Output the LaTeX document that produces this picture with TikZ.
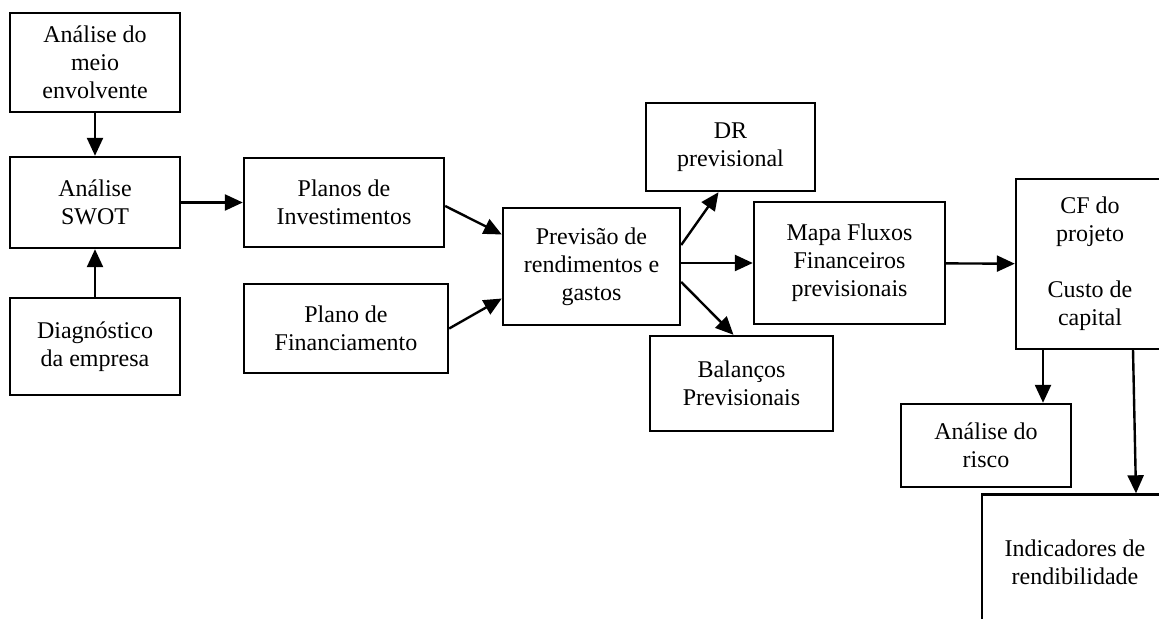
\documentclass[tikz,border=0pt]{standalone}
\usepackage{fontspec}
\setmainfont{Liberation Serif}
\usepackage{tikz}
\usetikzlibrary{arrows.meta, positioning}

\begin{document}
\begin{tikzpicture}[x=0.5pt, y=-0.5pt,
    caixa/.style={draw, line width=1.2pt, align=center, inner sep=2pt,
        font=\fontsize{12}{14}\selectfont},
    seta/.style={line width=1.2pt, -{Triangle[length=9pt, width=8pt]}}]

    \useasboundingbox (0,0) rectangle (1159,619);
    \clip (0,0) rectangle (1159,619);

    % ============================================================
    % ANALISE ESTRATEGICA
    % ============================================================
    \node[caixa, minimum width=85pt, minimum height=49.5pt] (meio)
        at (95,62.5) {Análise do\\meio\\envolvente};
    \node[caixa, minimum width=85pt, minimum height=45.5pt] (swot)
        at (95,202.5) {Análise\\SWOT};
    \node[caixa, minimum width=85pt, minimum height=48.5pt] (diag)
        at (95,346.5) {Diagnóstico\\da empresa};

    \draw[seta] (meio) -- (swot);
    \draw[seta] (diag) -- (swot);

    % ============================================================
    % PLANOS
    % ============================================================
    \node[caixa, minimum width=100pt, minimum height=44.5pt] (planos)
        at (344,202.5) {Planos de\\Investimentos};
    \node[caixa, minimum width=102pt, minimum height=44.5pt] (financ)
        at (346,328.5) {Plano de\\Financiamento};

    \draw[seta] (swot) -- (planos);

    % ============================================================
    % PREVISOES
    % ============================================================
    \node[caixa, minimum width=88.5pt, minimum height=58.5pt] (prev)
        at (591.5,266.5) {Previsão de\\rendimentos e\\gastos};
    \node[caixa, minimum width=84.5pt, minimum height=44pt] (dr)
        at (730.5,147) {DR\\previsional};
    \node[caixa, minimum width=95.5pt, minimum height=61pt] (mapa)
        at (849.5,263) {Mapa Fluxos\\Financeiros\\previsionais};
    \node[caixa, minimum width=91.5pt, minimum height=47.5pt] (bal)
        at (741.5,383.5) {Balanços\\Previsionais};

    \draw[seta] ([yshift=-1.75pt]planos.east) -- ([yshift=16pt]prev.west);
    \draw[seta] (financ.east) -- ([yshift=-16pt]prev.west);
    \draw[seta] ([yshift=10.75pt]prev.east) -- ([xshift=-6pt]dr.south);
    \draw[seta] ([yshift=1.75pt]prev.east) -- (mapa.west);
    \draw[seta] ([yshift=-7.75pt]prev.east) -- ([xshift=-4pt]bal.north);

    % ============================================================
    % AVALIACAO DO PROJETO
    % ============================================================
    \node[caixa, minimum width=74pt, minimum height=85pt] (cf)
        at (1090,264) {CF do\\projeto\\[14pt]Custo de\\capital};
    \node[caixa, minimum width=85pt, minimum height=41.5pt] (risco)
        at (986,445.5) {Análise do\\risco};
    \node[caixa, minimum width=93pt, minimum height=67.5pt] (ind)
        at (1075,562) {Indicadores de\\rendibilidade};

    \draw[seta] (mapa) -- (cf);
    \draw[seta] ([xshift=-23.5pt]cf.south) -- ([xshift=28.5pt]risco.north);
    \draw[seta] ([xshift=21.5pt]cf.south) -- ([xshift=30.5pt]ind.north);

\end{tikzpicture}
\end{document}
